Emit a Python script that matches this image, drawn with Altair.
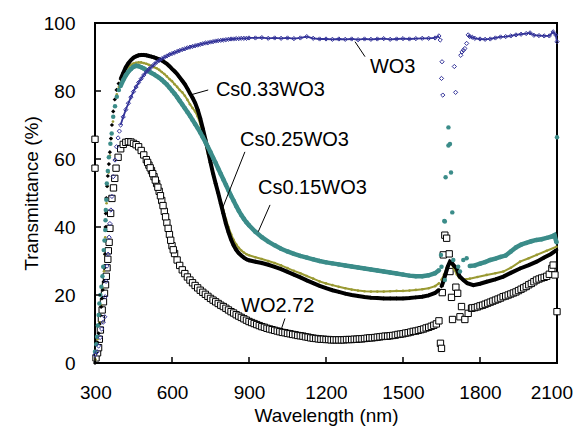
import altair as alt
import pandas as pd

FONT = "Liberation Sans"

# ---------------- data ----------------
x_ticks = [300, 600, 900, 1200, 1500, 1800, 2100]
y_ticks = [0, 20, 40, 60, 80, 100]

wl_main = [400, 410, 420, 430, 440, 450, 460, 470, 480, 490,
           500, 510, 520, 530, 540, 550, 560, 570, 580, 590,
           600, 610, 620, 630, 640, 650, 660, 670, 680, 690,
           700, 710, 720, 730, 740, 750, 760, 770, 780, 790,
           800, 810, 820, 830, 840, 850, 860, 870, 880, 890,
           900, 925, 950, 975, 1000, 1025, 1050, 1075, 1100, 1125,
           1150, 1175, 1200, 1225, 1250, 1275, 1300, 1325, 1350, 1375,
           1400, 1425, 1450, 1475, 1500, 1525, 1550, 1575, 1600, 1625,
           1640]

# Cs0.33WO3 (black)
cs33_main = [83.5, 85.3, 87.0, 88.2, 89.1, 89.8, 90.2, 90.5, 90.6, 90.6,
             90.5, 90.3, 90.1, 89.9, 89.6, 89.3, 89.0, 88.5, 88.0, 87.3,
             86.5, 85.8, 85.0, 84.0, 83.0, 82.0, 80.7, 79.3, 78.0, 76.5,
             74.5, 72.0, 69.0, 65.8, 62.5, 59.0, 55.7, 52.8, 50.0, 47.0,
             44.0, 41.0, 38.5, 36.3, 34.6, 33.3, 32.3, 31.6, 31.0, 30.5,
             30.2, 29.8, 29.4, 28.9, 28.3, 27.6, 26.8, 26.0, 25.2, 24.3,
             23.5, 22.7, 22.0, 21.4, 20.9, 20.4, 20.0, 19.7, 19.4, 19.2,
             19.1, 19.0, 19.0, 19.0, 19.0, 19.1, 19.3, 19.5, 19.9, 20.6,
             21.5]
cs33_uv_wl = [300, 305, 310, 314, 318, 321, 324, 327, 330, 334, 337, 339, 340,
              341, 342, 344, 347, 350, 354, 358, 362, 366, 371, 377, 384, 392]
cs33_uv = [0.0, 3.0, 6.0, 8.7, 11.5, 14.0, 16.5, 19.0, 21.5, 24.0, 28.0, 32.0, 36.0,
           40.0, 44.0, 48.5, 52.0, 55.0, 58.5, 62.0, 66.0, 70.0, 74.0, 77.5, 80.3, 82.2]
cs33_tail_wl = [1650, 1657, 1665, 1675, 1683, 1690, 1700, 1709, 1720, 1735, 1750, 1774,
                1800, 1826, 1860, 1891, 1920, 1956, 1990, 2021, 2050, 2075, 2098]
cs33_tail = [22.5, 23.9, 26.0, 28.5, 29.8, 29.5, 28.5, 27.8, 25.5, 24.4, 23.5, 22.9,
             23.3, 23.9, 24.6, 25.4, 26.5, 27.8, 28.8, 29.8, 31.0, 32.0, 33.2]

# Cs0.25WO3 (olive)
cs25_main = [82.5, 84.5, 86.0, 87.0, 87.7, 88.1, 88.3, 88.4, 88.4, 88.2,
             88.0, 87.7, 87.4, 87.0, 86.7, 86.2, 85.6, 85.0, 84.3, 83.5,
             82.9, 82.0, 81.2, 80.3, 79.6, 78.6, 77.4, 76.1, 75.0, 74.0,
             72.5, 70.3, 67.6, 64.6, 61.5, 58.5, 55.6, 52.9, 50.3, 47.6,
             45.0, 42.3, 40.0, 37.9, 36.2, 34.9, 33.9, 33.1, 32.5, 32.0,
             31.7, 31.1, 30.6, 30.0, 29.4, 28.7, 27.9, 27.1, 26.4, 25.6,
             24.8, 24.0, 23.4, 22.9, 22.4, 22.0, 21.6, 21.3, 21.1, 21.0,
             21.0, 21.0, 21.1, 21.2, 21.2, 21.3, 21.5, 21.7, 22.0, 22.6,
             23.4]
cs25_uv_wl = [302, 310, 318, 324, 330, 335, 338, 340, 342, 345, 349, 353, 358, 364,
              370, 377, 385, 393]
cs25_uv = [1.0, 7.0, 12.0, 17.0, 22.0, 27.0, 32.0, 37.0, 42.0, 47.0, 52.0, 56.0, 61.0,
           66.0, 71.0, 75.5, 79.0, 81.2]
cs25_tail_wl = [1650, 1660, 1670, 1680, 1690, 1700, 1710, 1720, 1735, 1760, 1790, 1826,
                1860, 1891, 1920, 1956, 1990, 2021, 2060, 2098]
cs25_tail = [24.5, 26.0, 28.0, 29.5, 29.0, 27.5, 26.0, 25.0, 24.6, 24.8, 25.3, 25.9,
             26.4, 26.9, 28.0, 29.8, 30.8, 31.8, 33.0, 34.2]

# Cs0.15WO3 (teal)
cs15_main = [81.5, 83.2, 84.6, 85.7, 86.5, 87.1, 87.4, 87.3, 87.0, 86.6,
             86.2, 85.8, 85.3, 84.9, 84.4, 83.9, 83.3, 82.6, 81.9, 81.0,
             80.1, 79.2, 78.2, 77.1, 76.0, 74.9, 73.8, 72.7, 71.5, 70.3,
             69.1, 67.8, 66.4, 65.0, 63.5, 62.0, 60.4, 58.8, 57.2, 55.6,
             54.0, 52.4, 50.8, 49.2, 47.7, 46.2, 44.8, 43.5, 42.4, 41.4,
             40.5, 38.6, 37.0, 35.7, 34.6, 33.6, 32.8, 32.1, 31.5, 31.0,
             30.5, 30.0, 29.6, 29.3, 29.0, 28.7, 28.4, 28.1, 27.8, 27.5,
             27.2, 26.9, 26.6, 26.3, 26.0, 25.7, 25.5, 25.5, 25.8, 26.4,
             27.3]
cs15_uv_wl = [300, 305, 308, 311, 314, 317, 321, 325, 329, 332, 334, 337, 340, 341,
              342, 344, 346, 350, 354, 360, 365, 371, 378, 385, 393]
cs15_uv = [3.3, 5.5, 7.7, 11.0, 14.1, 17.5, 20.0, 22.4, 25.5, 28.3, 33.2, 36.0, 39.1,
           42.0, 45.0, 48.0, 52.8, 56.5, 60.5, 64.5, 67.5, 72.4, 75.5, 78.3, 80.3]
cs15_sc_wl = [1648, 1650, 1661, 1663, 1663, 1666, 1677, 1677, 1683, 1687, 1692, 1696,
              1715, 1722, 1735, 1748, 2100]
cs15_sc = [31.8, 28.3, 41.8, 24.4, 41.6, 54.6, 69.3, 64.0, 64.4, 56.0, 44.3, 30.3,
           28.3, 26.9, 30.3, 30.8, 66.4]
cs15_tail_wl = [1760, 1780, 1800, 1820, 1840, 1860, 1880, 1900, 1920, 1940, 1960, 1980,
                2000, 2020, 2040, 2060, 2080, 2090, 2098]
cs15_tail = [28.5, 28.7, 29.2, 29.7, 30.3, 30.7, 31.2, 31.6, 32.8, 34.0, 34.8, 35.3,
             35.8, 36.2, 36.4, 36.8, 37.2, 37.6, 35.5]

# WO3 (navy open diamonds)
wo3_main = [70.0, 72.4, 74.5, 76.4, 78.2, 79.8, 81.2, 82.5, 83.6, 84.7,
            85.6, 86.4, 87.1, 87.8, 88.5, 89.0, 89.5, 89.9, 90.3, 90.7,
            91.0, 91.3, 91.6, 91.9, 92.2, 92.4, 92.7, 92.9, 93.1, 93.3,
            93.5, 93.7, 93.9, 94.1, 94.2, 94.4, 94.5, 94.7, 94.8, 94.9,
            95.0, 95.1, 95.2, 95.3, 95.3, 95.4, 95.4, 95.5, 95.5, 95.5,
            95.6, 95.6, 95.7, 95.5, 95.6, 95.5, 95.6, 95.4, 95.6, 96.0,
            95.5, 95.3, 95.3, 95.2, 95.3, 95.2, 95.3, 95.1, 95.3, 95.2,
            95.3, 95.4, 95.2, 95.3, 95.4, 95.3, 95.4, 95.5, 95.5, 95.6,
            96.2]
wo3_uv_wl = [300, 308, 314, 320, 326, 332, 338, 340, 343, 347, 351, 355, 358, 362,
             366, 371, 378, 384, 390, 395]
wo3_uv = [2.4, 3.3, 5.0, 7.5, 10.0, 12.0, 13.6, 19.5, 24.0, 28.5, 32.0, 37.0, 41.0,
          45.0, 49.0, 54.8, 59.7, 63.6, 66.2, 68.2]
wo3_sc_wl = [1645, 1650, 1652, 1655, 1700, 1705, 1725, 1730, 1735, 1741, 1748]
wo3_sc = [95.0, 83.7, 88.6, 78.8, 87.2, 79.6, 90.5, 91.5, 92.0, 92.5, 94.0]
wo3_tail_wl = [1754, 1760, 1770, 1780, 1800, 1820, 1840, 1860, 1880, 1900, 1920, 1940,
               1960, 1980, 1995, 2010, 2030, 2050, 2070, 2085, 2095, 2100]
wo3_tail = [96.5, 96.0, 95.8, 95.5, 95.3, 95.2, 95.3, 95.6, 95.9, 96.0, 96.2, 96.5,
            96.7, 96.9, 97.1, 96.4, 96.3, 96.2, 96.2, 97.4, 96.5, 94.5]

# WO2.72 (open squares) - denser sampling
wo272_wl = [400, 410, 420, 430, 440, 450, 460, 470, 480, 490,
            500, 510, 520, 530, 540, 550, 560, 570, 580, 590,
            600, 610, 620, 630, 640, 650, 660, 670, 680, 690,
            700, 710, 720, 730, 740, 750, 760, 770, 780, 790,
            800, 810, 820, 830, 840, 850, 860, 870, 880, 890,
            900, 910, 920, 930, 940, 950, 960, 970, 980, 990,
            1000, 1010, 1020, 1030, 1040, 1050, 1060, 1070, 1080, 1090,
            1100, 1110, 1120, 1130, 1140, 1150, 1160, 1170, 1180, 1190,
            1200, 1210, 1220, 1230, 1240, 1250, 1260, 1270, 1280, 1290,
            1300, 1310, 1320, 1330, 1340, 1350, 1360, 1370, 1380, 1390,
            1400, 1410, 1420, 1430, 1440, 1450, 1460, 1470, 1480, 1490,
            1500, 1510, 1520, 1530, 1540, 1550, 1560, 1570, 1580, 1590,
            1600, 1610, 1620, 1630, 1640]
wo272_main = [63.0, 64.3, 64.9, 65.1, 65.0, 64.6, 64.2, 63.6, 62.5, 61.2,
              59.8, 58.2, 56.6, 54.8, 52.8, 50.5, 47.8, 44.6, 41.3, 37.8,
              34.5, 32.2, 30.3, 28.7, 27.4, 26.3, 25.3, 24.4, 23.6, 22.8,
              22.1, 21.4, 20.8, 20.2, 19.6, 19.0, 18.5, 18.0, 17.5, 17.0,
              16.6, 16.1, 15.6, 15.1, 14.7, 14.2, 13.8, 13.4, 13.0, 12.6,
              12.2, 11.9, 11.6, 11.3, 11.0, 10.7, 10.5, 10.2, 10.0, 9.8,
              9.6, 9.4, 9.2, 9.0, 8.9, 8.7, 8.6, 8.4, 8.3, 8.1,
              8.0, 7.9, 7.7, 7.6, 7.4, 7.3, 7.2, 7.1, 7.0, 7.0,
              6.9, 6.9, 6.8, 6.8, 6.8, 6.8, 6.8, 6.8, 6.9, 6.9,
              6.9, 7.0, 7.0, 7.1, 7.1, 7.2, 7.3, 7.4, 7.4, 7.5,
              7.6, 7.7, 7.8, 7.9, 7.9, 8.0, 8.1, 8.2, 8.4, 8.5,
              8.6, 8.8, 8.9, 9.1, 9.3, 9.4, 9.6, 9.8, 10.0, 10.3,
              10.5, 10.8, 11.1, 11.5, 12.4]
wo272_steep_wl = [505, 515, 525, 535, 545, 555, 565, 575, 585, 595, 605]
wo272_steep = [59.0, 57.4, 55.7, 53.8, 51.7, 49.2, 46.3, 43.0, 39.6, 36.1, 33.3]
wo272_uv_wl = [300, 300, 304, 310, 314, 317, 321, 325, 328, 333, 337, 341, 344, 347,
               350, 352, 355, 358, 361, 366, 372, 377, 382, 390]
wo272_uv = [65.8, 57.3, 1.5, 3.0, 4.5, 7.0, 9.7, 13.0, 15.6, 18.0, 20.5, 23.0, 25.5,
            28.0, 30.5, 33.0, 35.5, 39.6, 44.0, 48.4, 51.5, 54.3, 57.3, 60.5]
wo272_sc_wl = [1646, 1650, 1653, 1657, 1663, 1670, 1680, 1683, 1689, 1693, 1706, 1713,
               1722, 1728, 1741, 1754, 1767, 2100]
wo272_sc = [5.8, 4.3, 20.7, 31.8, 37.6, 36.7, 32.1, 26.9, 19.3, 12.8, 22.3, 20.5,
            13.6, 16.6, 12.8, 14.6, 16.1, 15.1]
wo272_tail_wl = [1770, 1780, 1790, 1800, 1810, 1820, 1830, 1840, 1850, 1860, 1870,
                 1880, 1890, 1900, 1910, 1920, 1930, 1940, 1950, 1960, 1970, 1980,
                 1990, 2000, 2010, 2020, 2030, 2040, 2050, 2060, 2070, 2080, 2085, 2092]
wo272_tail = [16.2, 16.3, 16.5, 16.8, 17.0, 17.3, 17.6, 17.9, 18.2, 18.5, 18.8,
              19.1, 19.5, 19.7, 20.0, 20.3, 20.6, 20.9, 21.3, 21.7, 22.1, 22.5,
              23.0, 23.4, 23.9, 24.4, 24.7, 25.0, 25.2, 25.5, 26.1, 27.8, 28.8, 25.9]

# annotations
ann_text = ["WO3", "Cs0.33WO3", "Cs0.25WO3", "Cs0.15WO3", "WO2.72"]
ann_x = [1371, 771, 865, 935, 869]
ann_y = [87.1, 80.3, 65.6, 51.5, 16.8]
ptr_x1 = [1313, 670, 884, 982, 1040]
ptr_y1 = [94.5, 78.8, 62.1, 46.5, 13.1]
ptr_x2 = [1352, 741, 794, 936, 1027]
ptr_y2 = [90.1, 80.3, 45.0, 38.6, 10.2]


# ---------------- helpers ----------------
def frame(parts):
    dfs = []
    for seg, (w, v) in parts.items():
        dfs.append(pd.DataFrame({"wl": w, "val": v, "seg": seg}))
    return pd.concat(dfs, ignore_index=True)


xscale = alt.Scale(domain=[300, 2100], nice=False, zero=False)
yscale = alt.Scale(domain=[0, 100], nice=False)
xaxis = alt.Axis(values=x_ticks, title="Wavelength (nm)", grid=False, domain=False,
                 ticks=False, tickSize=0, labelPadding=20, titlePadding=4,
                 labelFlush=True, labelFlushOffset=15.5, labelOverlap=False, format="d")
yaxis = alt.Axis(values=y_ticks, title="Transmittance (%)", grid=False, domain=False,
                 ticks=False, tickSize=0, labelPadding=20, titlePadding=2,
                 labelFlush=False, labelOverlap=False)
X = alt.X("wl:Q", scale=xscale, axis=xaxis)
Y = alt.Y("val:Q", scale=yscale, axis=yaxis)


def series_layers(line_parts, point_parts, line_style, point_mark):
    layers = []
    if line_parts:
        ldf = frame(line_parts)
        layers.append(alt.Chart(ldf).mark_line(**line_style).encode(
            x=X, y=Y, detail="seg:N", order="wl:Q"))
    pdf = frame(point_parts)
    layers.append(alt.Chart(pdf).mark_point(**point_mark).encode(x=X, y=Y))
    return layers


NAVY = "#333399"
TEAL = "#3B8C89"
OLIVE = "#9A9A33"

layers = []
# WO2.72
layers += series_layers(
    None,
    {"uv": (wo272_uv_wl, wo272_uv), "main": (wo272_wl, wo272_main),
     "steep": (wo272_steep_wl, wo272_steep),
     "sc": (wo272_sc_wl, wo272_sc), "tail": (wo272_tail_wl, wo272_tail)},
    None,
    dict(shape="square", filled=True, fill="white", stroke="black", strokeWidth=1,
         size=40, opacity=1))
# Cs0.25
layers += series_layers(
    {"main": (wl_main, cs25_main), "tail": (cs25_tail_wl, cs25_tail)},
    {"uv": (cs25_uv_wl, cs25_uv), "main": (wl_main, cs25_main),
     "tail": (cs25_tail_wl, cs25_tail)},
    dict(color=OLIVE, strokeWidth=2),
    dict(shape="circle", filled=True, color=OLIVE, size=7, opacity=1))
# Cs0.33
layers += series_layers(
    {"main": (wl_main, cs33_main), "tail": (cs33_tail_wl, cs33_tail)},
    {"uv": (cs33_uv_wl, cs33_uv), "main": (wl_main, cs33_main),
     "tail": (cs33_tail_wl, cs33_tail)},
    dict(color="black", strokeWidth=4),
    dict(shape="diamond", filled=True, color="black", size=18, opacity=1))
# Cs0.15
layers += series_layers(
    {"main": (wl_main, cs15_main), "tail": (cs15_tail_wl, cs15_tail)},
    {"uv": (cs15_uv_wl, cs15_uv), "main": (wl_main, cs15_main),
     "sc": (cs15_sc_wl, cs15_sc), "tail": (cs15_tail_wl, cs15_tail)},
    dict(color=TEAL, strokeWidth=4.5),
    dict(shape="circle", filled=True, color=TEAL, size=20, opacity=1))
# WO3
layers += series_layers(
    {"main": (wl_main, wo3_main), "tail": (wo3_tail_wl, wo3_tail)},
    {"uv": (wo3_uv_wl, wo3_uv), "main": (wl_main, wo3_main),
     "sc": (wo3_sc_wl, wo3_sc), "tail": (wo3_tail_wl, wo3_tail)},
    dict(color=NAVY, strokeWidth=1.8),
    dict(shape="diamond", filled=False, color=NAVY, strokeWidth=1, size=18, opacity=1))

# pointer lines and labels
ptr_df = pd.DataFrame({"wl": ptr_x1, "val": ptr_y1, "wl2": ptr_x2, "val2": ptr_y2})
layers.append(alt.Chart(ptr_df).mark_rule(color="black", strokeWidth=1).encode(
    x=X, y=Y, x2="wl2:Q", y2="val2:Q"))
ann_df = pd.DataFrame({"wl": ann_x, "val": ann_y, "label": ann_text})
layers.append(alt.Chart(ann_df).mark_text(align="left", baseline="middle", fontSize=20,
                                          font=FONT, color="black").encode(
    x=X, y=Y, text="label:N"))

# inward ticks
xt_df = pd.DataFrame({"wl": x_ticks})
layers.append(alt.Chart(xt_df).mark_rule(color="black", strokeWidth=1.5).encode(
    x=X, y=alt.value(340), y2=alt.value(334)))
yt_df = pd.DataFrame({"val": y_ticks})
layers.append(alt.Chart(yt_df).mark_rule(color="black", strokeWidth=1.5).encode(
    y=Y, x=alt.value(0), x2=alt.value(6)))

chart = alt.layer(*layers).properties(
    width=462, height=340,
    padding={"left": 87, "top": 15, "right": 16, "bottom": 66},
    autosize=alt.AutoSizeParams(type="none"),
    background="white",
).configure_view(stroke="black", strokeWidth=2).configure_axis(
    labelFont=FONT, titleFont=FONT, labelFontSize=19, titleFontSize=19,
    titleFontWeight="normal", labelColor="black", titleColor="black",
)

chart.save("out.html", embed_options={"renderer": "svg", "actions": False})
